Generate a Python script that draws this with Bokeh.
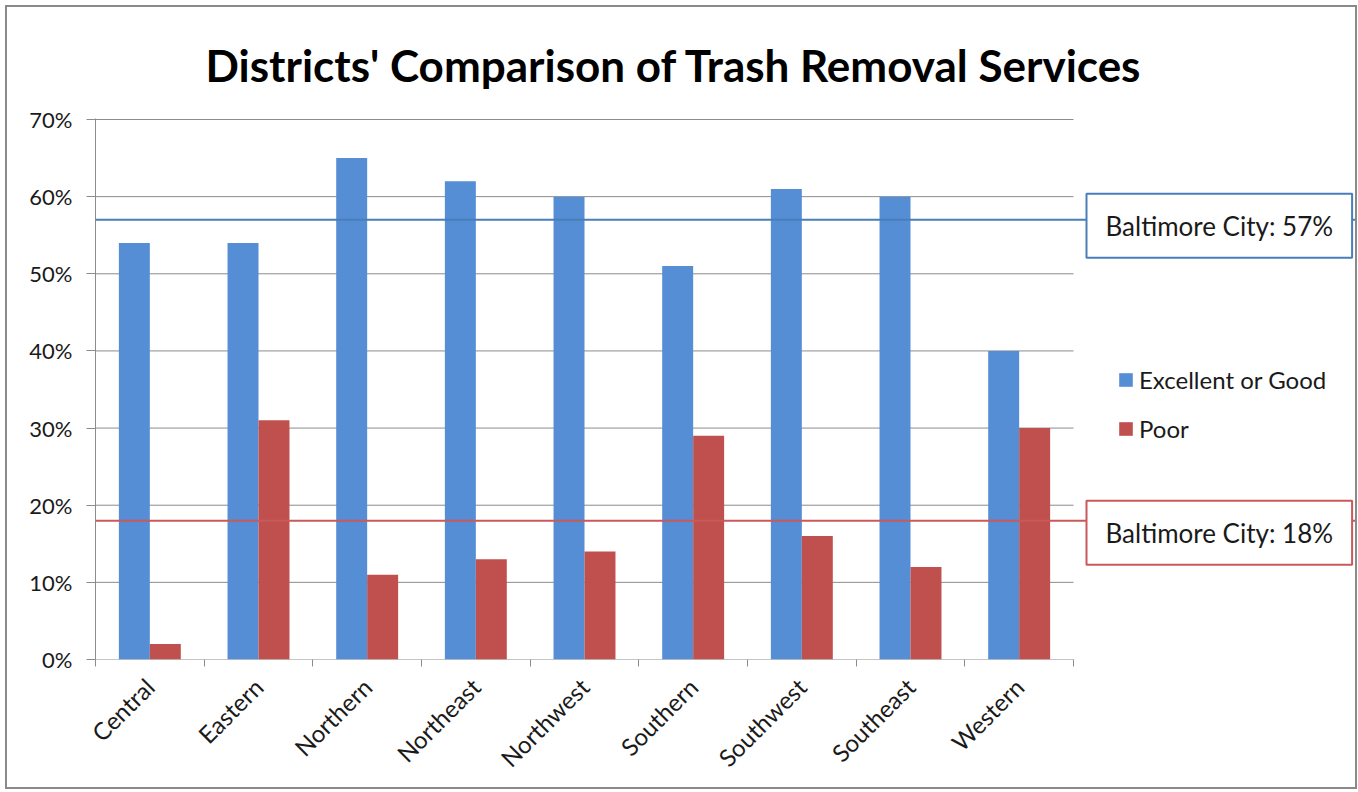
from bokeh.plotting import figure
from bokeh.models import (ColumnDataSource, Range1d, FixedTicker, Label, Legend, LegendItem, Span)
from bokeh.transform import dodge
from bokeh.embed import file_html
from bokeh.resources import INLINE

# ---------------- data ----------------
districts = ["Central", "Eastern", "Northern", "Northeast", "Northwest",
             "Southern", "Southwest", "Southeast", "Western"]
excellent_good = [54, 54, 65, 62, 60, 51, 61, 60, 40]
poor = [2, 31, 11, 13, 14, 29, 16, 12, 30]
city_excellent_good = 57
city_poor = 18
y_ticks = [0, 10, 20, 30, 40, 50, 60, 70]
y_tick_labels = ["0%", "10%", "20%", "30%", "40%", "50%", "60%", "70%"]
series_names = ["Excellent or Good", "Poor"]
title_text = "Districts' Comparison of Trash Removal Services"

# ---------------- style / layout ----------------
FONT = "Lato"
BLUE = "#558ED5"
RED = "#C0504D"
BLUE_LINE = "#4A7EBB"
RED_LINE = "#C9595A"
GRID = "#8C8C8C"
TEXT = "#1a1a1a"
CAT_W = 978          # pixel width used by the categories
FRAME_W = 1260       # frame continues to the right to hold legend and boxes
FRAME_H = 541

n = len(districts)
centers = [i + 0.5 for i in range(n)]
bounds = list(range(n + 1))

src = ColumnDataSource(dict(pos=centers, district=districts,
                            excellent_good=excellent_good, poor=poor))

p = figure(x_range=Range1d(0, n * FRAME_W / CAT_W), y_range=Range1d(0, 70.13),
           frame_width=FRAME_W, frame_height=FRAME_H,
           min_border_left=88, min_border_right=0, min_border_top=111, min_border_bottom=128,
           output_backend="svg", toolbar_location=None)
p.styles = {"border": "2px solid #8a8a8a", "margin-left": "5px", "margin-top": "5px"}
p.outline_line_color = None
p.background_fill_color = "white"
p.border_fill_color = "white"
p.grid.grid_line_color = None

p.title.text = title_text
p.title.text_font = FONT
p.title.text_font_size = "44px"
p.title.text_font_style = "bold"
p.title.text_color = "black"
p.title.align = "left"
p.title.offset = 110
p.title.standoff = 56

# gridlines (only across the category area)
p.segment(x0=0, x1=n, y0=y_ticks, y1=y_ticks, line_color=GRID, line_width=1)

r1 = p.vbar(x=dodge("pos", -0.1425), top="excellent_good", width=0.285,
            source=src, fill_color=BLUE, line_color=None)
r2 = p.vbar(x=dodge("pos", 0.1425), top="poor", width=0.285,
            source=src, fill_color=RED, line_color=None)

# y axis
yax = p.yaxis[0]
yax.ticker = FixedTicker(ticks=y_ticks)
yax.major_label_overrides = {t: l for t, l in zip(y_ticks, y_tick_labels)}
yax.minor_tick_line_color = None
yax.major_tick_in = 0
yax.major_tick_out = 9
yax.axis_line_color = GRID
yax.major_tick_line_color = GRID
yax.major_label_text_font = FONT
yax.major_label_text_font_size = "22px"
yax.major_label_text_color = TEXT
yax.major_label_standoff = 14

# x axis: labels at category centres, ticks at category boundaries
xax = p.xaxis[0]
xax.ticker = FixedTicker(ticks=centers, minor_ticks=bounds)
xax.major_label_overrides = {c: d for c, d in zip(centers, districts)}
xax.major_tick_line_color = None
xax.minor_tick_in = 0
xax.minor_tick_out = 7
xax.minor_tick_line_color = GRID
xax.axis_line_color = None
xax.major_label_orientation = 0.785398
xax.major_label_standoff = 16
xax.major_label_text_font = FONT
xax.major_label_text_font_size = "24px"
xax.major_label_text_color = TEXT

# city reference lines and their boxes
for val, col in [(city_excellent_good, BLUE_LINE), (city_poor, RED_LINE)]:
    p.add_layout(Span(location=val, dimension="width", line_color=col, line_width=2))
for val, col, yoff in [(city_excellent_good, BLUE_LINE, -6), (city_poor, RED_LINE, -12)]:
    p.add_layout(Label(x=991, y=val, x_units="screen", y_units="data", y_offset=yoff,
                       text=f"Baltimore City: {val}%", text_font=FONT, text_font_size="26px",
                       text_color=TEXT, text_align="left", text_baseline="middle",
                       border_line_color=col, border_line_width=2,
                       background_fill_color="white", padding=(19, 16)))

legend = Legend(items=[LegendItem(label=series_names[0], renderers=[r1]),
                       LegendItem(label=series_names[1], renderers=[r2])],
                location=(1022, 216), orientation="vertical",
                glyph_width=17, glyph_height=17, label_height=17, spacing=20,
                label_standoff=5, padding=0, margin=0,
                label_text_font=FONT, label_text_font_size="24px", label_text_color=TEXT,
                border_line_color=None, background_fill_alpha=0)
p.add_layout(legend)

open("out.html", "w").write(file_html(p, INLINE))
